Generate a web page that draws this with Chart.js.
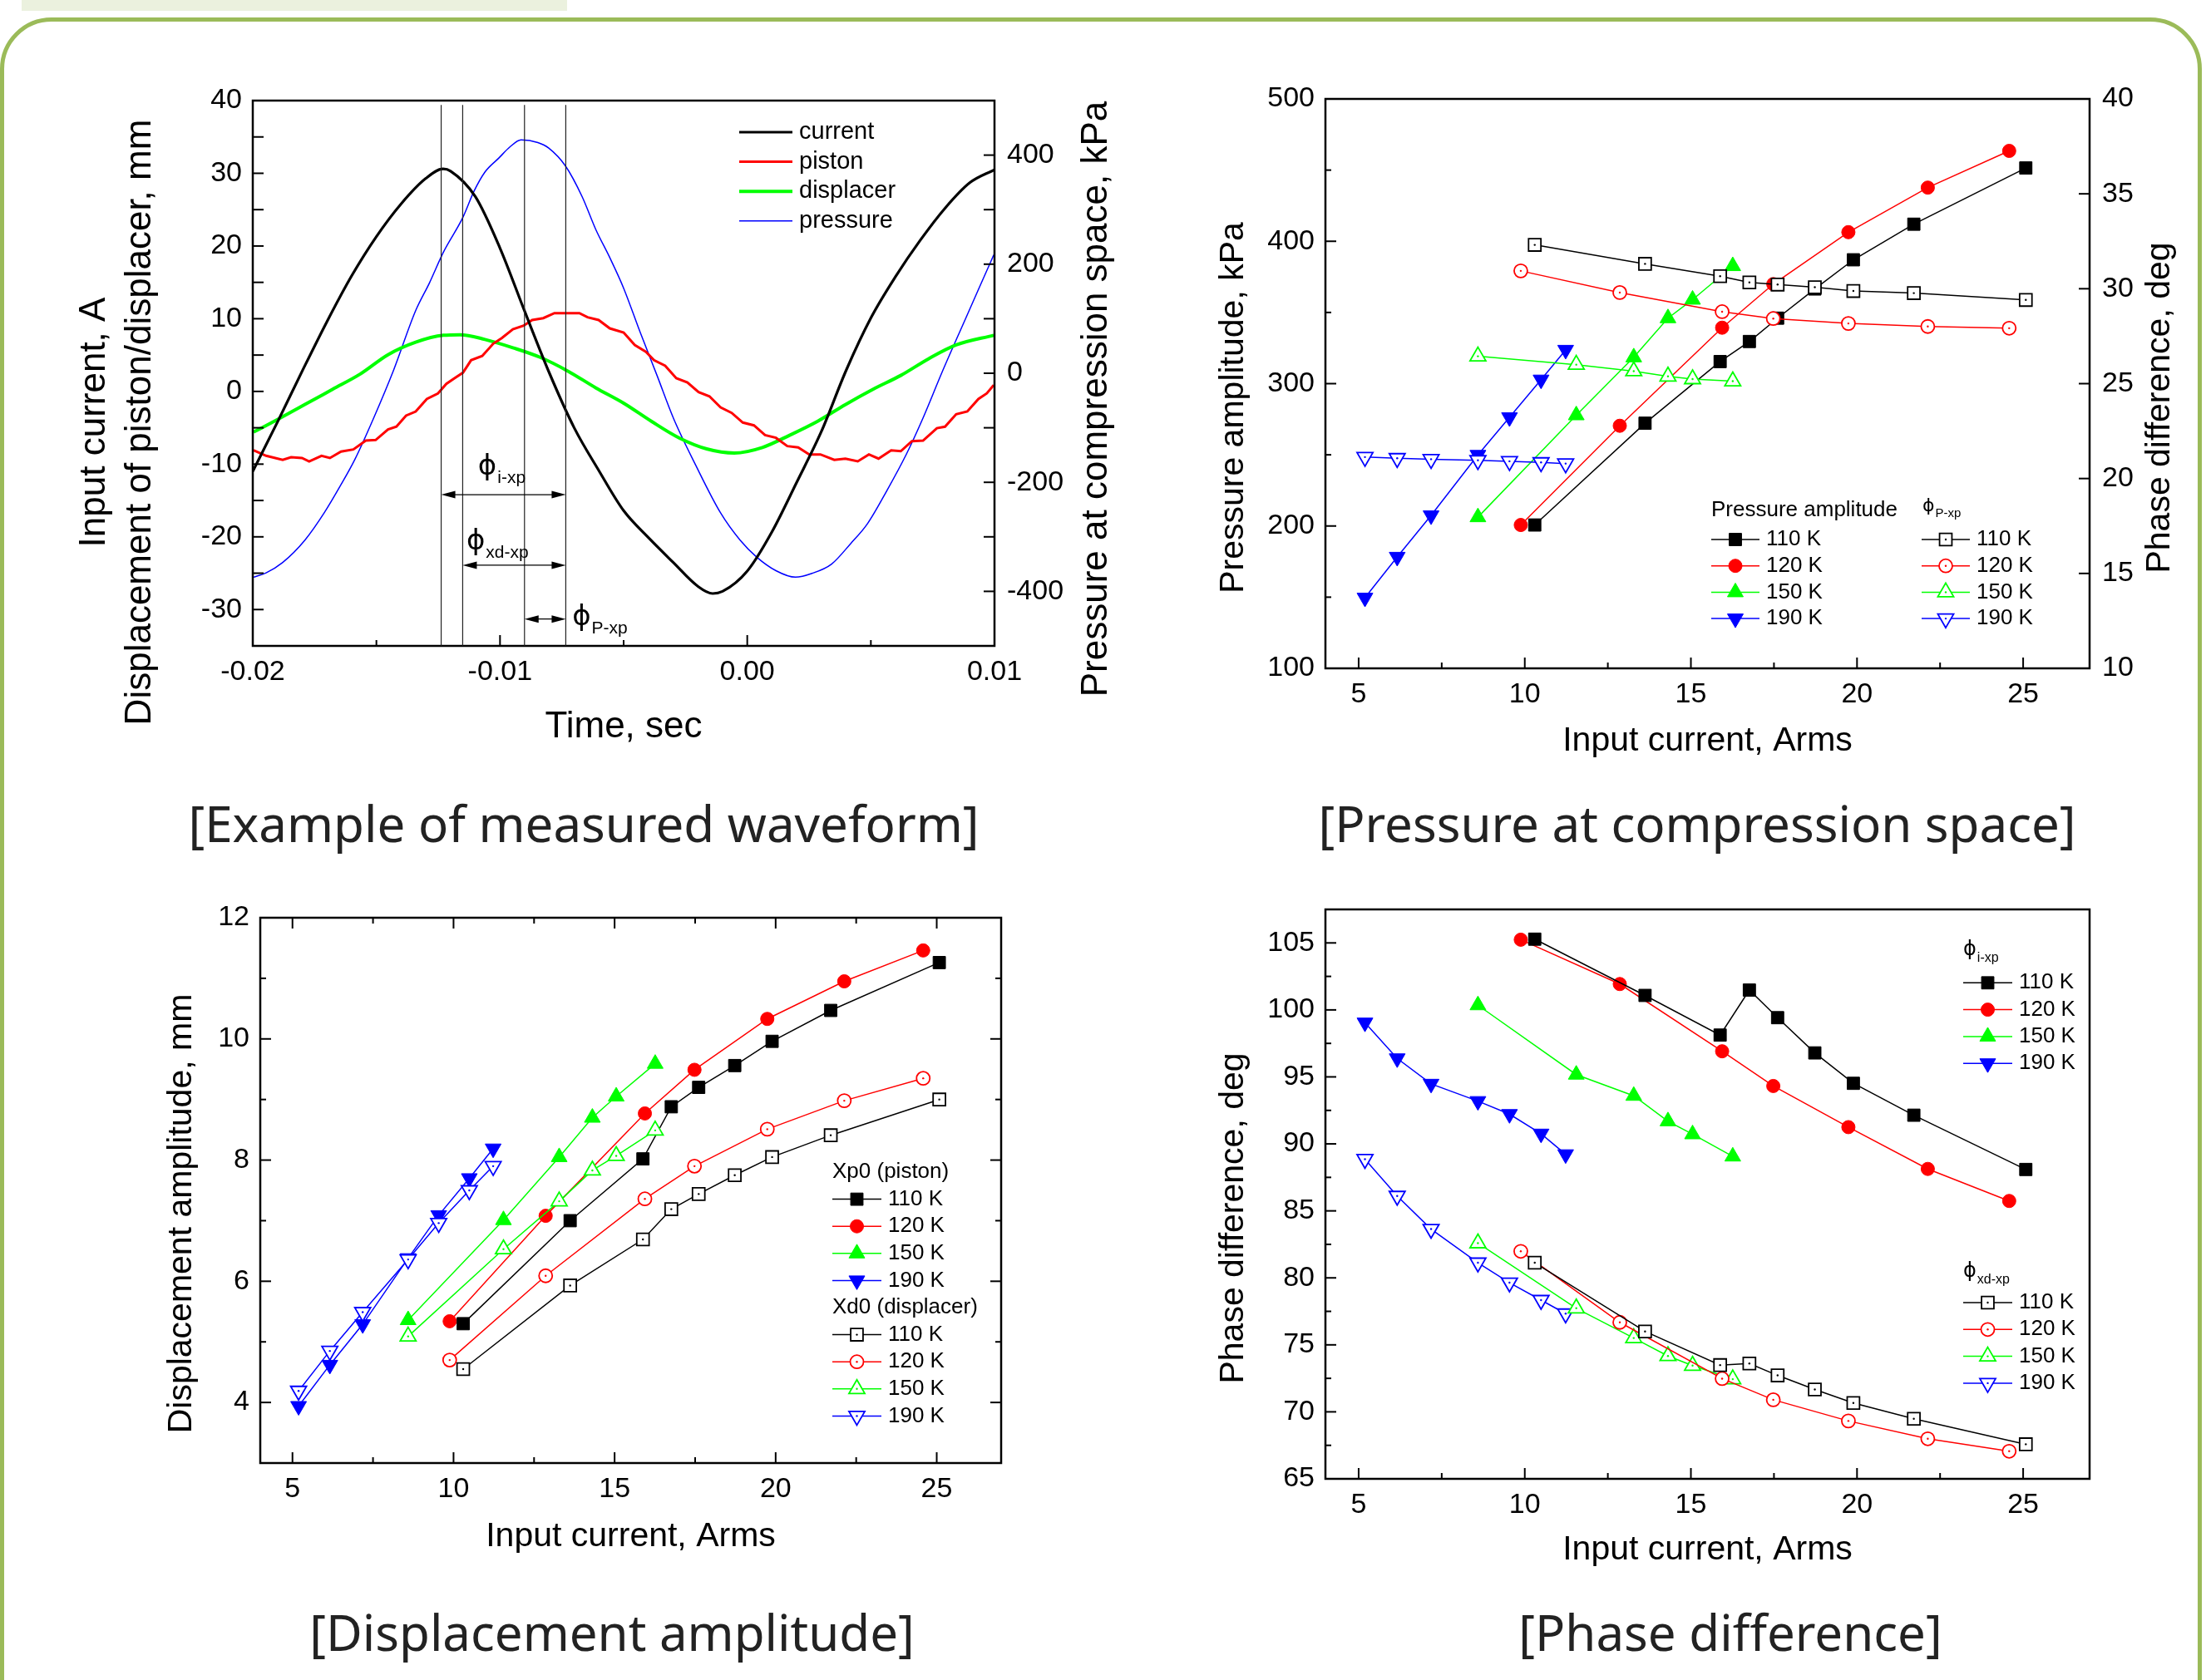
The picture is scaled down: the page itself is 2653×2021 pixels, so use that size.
<!DOCTYPE html>
<html>
<head>
<meta charset="utf-8">
<title>Waveform, pressure, displacement and phase</title>
<script src="https://cdn.jsdelivr.net/npm/chart.js@4.4.1/dist/chart.umd.min.js"></script>
<style>
html, body { margin: 0; padding: 0; background: #fff; }
#page { position: relative; width: 2653px; height: 2021px; overflow: hidden; background: #fff; }
#tab { position: absolute; left: 26px; top: 0; width: 656px; height: 13px; background: #ebf1de; }
#frame { position: absolute; left: 0; top: 21px; width: 2648px; height: 2090px; border: 5px solid #9bbb59; border-radius: 62px; box-sizing: border-box; }
canvas { position: absolute; }
.cap { position: absolute; transform: translate(-50%, -50%); font-family: 'Noto Sans', sans-serif; font-size: 60px; color: #222; white-space: nowrap; }
</style>
</head>
<body>
<div id="page">
  <div id="tab"></div>
  <div id="frame"></div>
  <canvas id="wave" width="1320" height="860" style="left:60px;top:80px"></canvas>
  <canvas id="press" width="1250" height="860" style="left:1400px;top:80px"></canvas>
  <canvas id="disp" width="1230" height="860" style="left:150px;top:1060px"></canvas>
  <canvas id="phase" width="1250" height="870" style="left:1400px;top:1050px"></canvas>
  <div class="cap" style="left:702px;top:990px">[Example of measured waveform]</div>
  <div class="cap" style="left:2041px;top:990px">[Pressure at compression space]</div>
  <div class="cap" style="left:736px;top:1963px">[Displacement amplitude]</div>
  <div class="cap" style="left:2081px;top:1963px">[Phase difference]</div>
</div>
<script>
// ---- waveform (time in s) ----
const tCurrent = [-0.020, -0.019, -0.018, -0.017, -0.016, -0.015, -0.014, -0.013, -0.0123, -0.012, -0.011, -0.010, -0.009, -0.008, -0.007, -0.006, -0.005, -0.004, -0.003, -0.002, -0.0014, -0.001, 0.000, 0.001, 0.002, 0.003, 0.004, 0.005, 0.006, 0.007, 0.008, 0.009, 0.010];
const current = [-11.0, -4.2, 2.8, 9.6, 15.9, 21.3, 25.8, 29.3, 30.6, 30.3, 26.8, 19.7, 11.0, 2.5, -5.0, -10.9, -16.4, -20.1, -23.5, -26.8, -27.8, -27.5, -24.7, -19.3, -12.5, -5.5, 2.9, 10.1, 15.8, 20.8, 25.2, 28.7, 30.5];

const tPiston = [-0.01997, -0.01946, -0.01879, -0.01845, -0.01801, -0.01772, -0.01722, -0.01688, -0.01643, -0.01593, -0.01543, -0.01503, -0.01453, -0.01419, -0.01380, -0.01341, -0.01296, -0.01251, -0.01217, -0.01184, -0.01150, -0.01117, -0.01072, -0.01027, -0.00993, -0.00948, -0.00904, -0.00870, -0.00825, -0.00780, -0.00724, -0.00679, -0.00646, -0.00601, -0.00556, -0.00500, -0.00455, -0.00410, -0.00377, -0.00332, -0.00287, -0.00242, -0.00197, -0.00153, -0.00108, -0.00063, -0.00018, 0.00027, 0.00072, 0.00116, 0.00162, 0.00206, 0.00251, 0.00296, 0.00352, 0.00397, 0.00447, 0.00492, 0.00531, 0.00582, 0.00621, 0.00666, 0.00711, 0.00767, 0.00800, 0.00845, 0.00890, 0.00935, 0.00969, 0.00997];
const piston = [-8.1, -8.85, -9.42, -9.05, -9.16, -9.62, -8.85, -9.16, -8.28, -7.98, -6.76, -6.68, -5.24, -4.85, -3.33, -2.76, -1.04, -0.27, 1.05, 1.82, 2.58, 4.29, 4.87, 6.58, 7.34, 8.56, 9.05, 9.82, 10.08, 10.77, 10.77, 10.77, 10.2, 9.82, 8.67, 8.1, 6.39, 5.44, 4.29, 3.53, 1.82, 1.24, -0.09, -0.67, -2.19, -2.95, -4.28, -4.67, -6.0, -6.38, -7.52, -7.71, -8.67, -8.67, -9.42, -9.24, -9.62, -8.67, -9.24, -8.1, -8.22, -6.84, -6.76, -5.05, -4.85, -3.14, -2.76, -1.04, -0.27, 0.87];

const tDisplacer = [-0.01997, -0.01902, -0.01789, -0.01677, -0.01565, -0.01453, -0.01341, -0.01229, -0.01162, -0.01061, -0.00948, -0.00836, -0.00724, -0.00612, -0.00500, -0.00388, -0.00276, -0.00164, -0.00052, 0.00061, 0.00173, 0.00285, 0.00397, 0.00509, 0.00621, 0.00733, 0.00845, 0.00997];
const displacer = [-5.6, -3.9, -1.8, 0.3, 2.4, 5.05, 6.77, 7.72, 7.8, 7.15, 6.01, 4.67, 2.77, 0.48, -1.61, -4.1, -6.38, -7.9, -8.47, -7.71, -6.0, -4.1, -1.81, 0.3, 2.2, 4.48, 6.39, 7.72];

const tPressure = [-0.01997, -0.01946, -0.01879, -0.01789, -0.01711, -0.01644, -0.01587, -0.01509, -0.01431, -0.01341, -0.01285, -0.01229, -0.01150, -0.01105, -0.01061, -0.01004, -0.00960, -0.00915, -0.00847, -0.00803, -0.00735, -0.00668, -0.00612, -0.00556, -0.00500, -0.00433, -0.00365, -0.00298, -0.00208, -0.00108, -0.00029, 0.00038, 0.00116, 0.00195, 0.00262, 0.00341, 0.00419, 0.00486, 0.00565, 0.00643, 0.00710, 0.00789, 0.00878, 0.00957, 0.00997];
const pressure = [-374, -366, -347, -306, -256, -205, -158, -80, 5, 115, 166, 222, 286, 334, 369, 395, 415, 428, 423, 413, 380, 324, 263, 212, 156, 75, -4, -83, -169, -256, -306, -337, -362, -374, -367, -350, -312, -276, -215, -149, -83, 3, 95, 176, 217];

// phase markers on the waveform
const phaseMarks = [-0.01238, -0.01151, -0.00901, -0.00734];
const markTop = 39.4;
const phaseSpans = [[-0.01238, -0.00734], [-0.01151, -0.00734], [-0.00901, -0.00734]];
const spanLevels = [-14.2, -23.9, -31.3];
const phaseSubs = ['i-xp', 'xd-xp', 'P-xp'];
const noteTimes = [-0.01089, -0.01136, -0.00708];
const noteLevels = [-10.4, -20.7, -31.1];

const waveTimeLabels = [-0.02, -0.01, 0, 0.01];
const waveTimeMinor = [-0.015, -0.005, 0.005];
const waveLeftLabels = [-30, -20, -10, 0, 10, 20, 30, 40];
const waveLeftTicks = [-30, -25, -20, -15, -10, -5, 0, 5, 10, 15, 20, 25, 30, 35];
const waveRightLabels = [-400, -200, 0, 200, 400];
const waveRightTicks = [-400, -300, -200, -100, 0, 100, 200, 300, 400];
const waveLeftTitle = ['Input current, A', 'Displacement of piston/displacer, mm'];
const waveRightTitle = ['Pressure at compression space, kPa'];

// ---- sweep results vs input current (Arms) ----
const temps = ['110 K', '120 K', '150 K', '190 K'];
const cur110 = [10.30, 13.62, 15.88, 16.76, 17.61, 18.73, 19.89, 21.71, 25.08];
const cur120 = [9.88, 12.86, 15.94, 17.48, 19.74, 22.13, 24.58];
const cur150 = [8.59, 11.55, 13.28, 14.31, 15.05, 16.26];
const cur190 = [5.19, 6.16, 7.18, 8.59, 9.54, 10.49, 11.23];

const pAmp110 = [200.7, 272.2, 315.5, 329.6, 346.0, 366.5, 387.0, 412.0, 451.5];
const pAmp120 = [200.7, 270.4, 339.3, 369.9, 406.4, 437.7, 463.5];
const pAmp150 = [206.2, 277.8, 318.5, 346.0, 359.0, 382.6];
const pAmp190 = [149.6, 178.3, 207.4, 249.9, 276.3, 302.8, 323.7];
const phP110 = [32.31, 31.31, 30.66, 30.33, 30.22, 30.08, 29.88, 29.77, 29.41];
const phP120 = [30.94, 29.80, 28.79, 28.43, 28.17, 28.01, 27.92];
const phP150 = [26.44, 26.00, 25.66, 25.38, 25.24, 25.13];
const phP190 = [21.13, 21.07, 21.02, 20.96, 20.91, 20.85, 20.79];

const xp110 = [5.30, 7.00, 8.02, 8.88, 9.20, 9.56, 9.96, 10.47, 11.26];
const xp120 = [5.34, 7.08, 8.77, 9.49, 10.33, 10.95, 11.46];
const xp150 = [5.36, 7.01, 8.05, 8.70, 9.05, 9.59];
const xp190 = [3.94, 4.62, 5.29, 6.38, 7.09, 7.70, 8.19];
const xd110 = [4.55, 5.93, 6.69, 7.19, 7.44, 7.75, 8.05, 8.41, 9.00];
const xd120 = [4.70, 6.09, 7.36, 7.90, 8.51, 8.98, 9.35];
const xd150 = [5.09, 6.53, 7.32, 7.83, 8.07, 8.49];
const xd190 = [4.19, 4.85, 5.49, 6.36, 6.96, 7.50, 7.90];

const phI110 = [105.28, 101.08, 98.12, 101.48, 99.42, 96.79, 94.52, 92.14, 88.09];
const phI120 = [105.24, 101.93, 96.91, 94.32, 91.25, 88.13, 85.74];
const phI150 = [100.35, 95.17, 93.59, 91.69, 90.72, 89.06];
const phI190 = [99.05, 96.38, 94.48, 93.19, 92.22, 90.76, 89.22];
const phXd110 = [81.13, 76.00, 73.49, 73.61, 72.72, 71.67, 70.66, 69.48, 67.58];
const phXd120 = [81.98, 76.68, 72.48, 70.90, 69.32, 67.99, 67.06];
const phXd150 = [82.59, 77.73, 75.51, 74.17, 73.45, 72.44];
const phXd190 = [88.86, 86.11, 83.64, 81.13, 79.64, 78.34, 77.33];

const currentLabels = [5, 10, 15, 20, 25];
const currentMinor = [7.5, 12.5, 17.5, 22.5];
const pressLabels = [100, 200, 300, 400, 500];
const pressMinor = [150, 250, 350, 450];
const phasePLabels = [10, 15, 20, 25, 30, 35, 40];
const dispLabels = [4, 6, 8, 10, 12];
const dispMinor = [3, 5, 7, 9, 11];
const phaseLabels = [65, 70, 75, 80, 85, 90, 95, 100, 105];
const phaseMinor = [67.5, 72.5, 77.5, 82.5, 87.5, 92.5, 97.5, 102.5];

const pressHeads = ['Pressure amplitude', 'P-xp'];
const dispHeads = ['Xp0 (piston)', 'Xd0 (displacer)'];
const phaseHeads = ['i-xp', 'xd-xp'];
const phaseTitle = ['Phase difference, deg'];

const currents = [cur110, cur120, cur150, cur190];
const tempColors = ['#000000', '#ff0000', '#00ff00', '#0000ff'];
const tempShapes = ['rect', 'circle', 'triangle', 'triangle'];
const tempTurns = [0, 0, 0, 180];
const tempSizes = [10.5, 8, 11, 11];

const FONT = "'Liberation Sans', Arial, sans-serif";
Chart.defaults.font.family = FONT;
Chart.defaults.font.size = 34;
Chart.defaults.color = '#000';
Chart.defaults.plugins.legend.display = false;
Chart.defaults.plugins.tooltip.enabled = false;

function axis(o) {
  return {
    type: 'linear', position: o.pos, min: o.min, max: o.max,
    grid: { display: false, drawTicks: false },
    border: { display: false },
    afterBuildTicks: s => { s.ticks = o.labels.map(v => ({ value: v })); },
    afterFit: s => { if (s.isHorizontal()) s.height = o.size; else s.width = o.size; },
    ticks: { autoSkip: false, maxRotation: 0, padding: o.tickPad, color: '#000', callback: o.fmt || (v => v) },
    title: { display: !!o.title, text: o.title, color: '#000', font: { size: o.titleSize, lineHeight: 1.25 }, padding: { top: o.titlePad, bottom: o.titlePad } }
  };
}

function wave(label, xs, ys, color, width, axisId, smooth) {
  return {
    label, data: xs.map((x, i) => ({ x, y: ys[i] })), showLine: true,
    borderColor: color, borderWidth: width, pointRadius: 0, yAxisID: axisId,
    tension: 0, cubicInterpolationMode: smooth ? 'monotone' : 'default'
  };
}

function series(i, ys, filled, axisId) {
  const c = tempColors[i];
  return {
    label: temps[i], data: currents[i].map((x, k) => ({ x, y: ys[k] })), showLine: true,
    borderColor: c, borderWidth: 1.5, tension: 0,
    pointStyle: tempShapes[i], pointRotation: tempTurns[i], pointRadius: tempSizes[i],
    pointBackgroundColor: filled ? c : '#ffffff', pointBorderColor: c, pointBorderWidth: filled ? 1 : 1.8,
    order: filled ? 2 : 1, yAxisID: axisId
  };
}

function marker(ctx, ds, x, y) {
  const r = ds.pointRadius;
  ctx.fillStyle = ds.pointBackgroundColor; ctx.strokeStyle = ds.pointBorderColor; ctx.lineWidth = ds.pointBorderWidth;
  ctx.beginPath();
  if (ds.pointStyle === 'circle') ctx.arc(x, y, r, 0, Math.PI * 2);
  else if (ds.pointStyle === 'rect') { const h = r * Math.SQRT1_2; ctx.rect(x - h, y - h, 2 * h, 2 * h); }
  else {
    const s = ds.pointRotation === 180 ? -1 : 1;
    ctx.moveTo(x, y - s * r); ctx.lineTo(x + r * 0.866, y + s * r / 2); ctx.lineTo(x - r * 0.866, y + s * r / 2); ctx.closePath();
  }
  ctx.fill(); ctx.stroke();
  if (ds.pointBackgroundColor === '#ffffff') dot(ctx, ds.pointBorderColor, x, y);
}

function dot(ctx, color, x, y) {
  ctx.fillStyle = color;
  ctx.beginPath(); ctx.arc(x, y, 1.2, 0, Math.PI * 2); ctx.fill();
}

function keyRow(ctx, ds, x0, len, y, size) {
  ctx.strokeStyle = ds.borderColor; ctx.lineWidth = ds.borderWidth;
  ctx.beginPath(); ctx.moveTo(x0, y); ctx.lineTo(x0 + len, y); ctx.stroke();
  if (ds.pointRadius) marker(ctx, ds, x0 + len / 2, y);
  text(ctx, ds.label, x0 + len + 8, y, size);
}

function text(ctx, str, x, y, size) {
  ctx.fillStyle = '#000'; ctx.font = size + 'px ' + FONT; ctx.textAlign = 'left'; ctx.textBaseline = 'middle';
  ctx.fillText(str, x, y);
}

function phi(ctx, sub, x, y, size, subSize) {
  ctx.fillStyle = '#000'; ctx.font = size + "px 'DejaVu Sans', sans-serif"; ctx.textAlign = 'left'; ctx.textBaseline = 'middle';
  ctx.fillText('\u03d5', x, y);
  const w = ctx.measureText('\u03d5').width;
  text(ctx, sub, x + w + 1, y + size * 0.39, subSize);
}

function arrow(ctx, x1, x2, y) {
  ctx.strokeStyle = '#000'; ctx.fillStyle = '#000'; ctx.lineWidth = 1.3;
  ctx.beginPath(); ctx.moveTo(x1 + 4, y); ctx.lineTo(x2 - 4, y); ctx.stroke();
  for (const [tip, dir] of [[x1, 1], [x2, -1]]) {
    ctx.beginPath(); ctx.moveTo(tip, y); ctx.lineTo(tip + dir * 17, y - 4.5); ctx.lineTo(tip + dir * 17, y + 4.5); ctx.closePath(); ctx.fill();
  }
}

// box round the plot, inward ticks, centre dots of open symbols
function frame(specs) {
  return {
    id: 'frame',
    afterDatasetsDraw(chart) {
      const { ctx, chartArea: a } = chart;
      ctx.save();
      chart.data.datasets.forEach((ds, i) => {
        if (ds.pointBackgroundColor !== '#ffffff') return;
        chart.getDatasetMeta(i).data.forEach(p => dot(ctx, ds.pointBorderColor, p.x, p.y));
      });
      ctx.strokeStyle = '#000'; ctx.lineWidth = 2;
      for (const t of specs) {
        const s = chart.scales[t.scale];
        const sets = [[t.major, t.majorLen || 13], [t.minor || [], t.minorLen || 7]];
        for (const [vals, len] of sets) {
          for (const v of vals) {
            const p = s.getPixelForValue(v);
            ctx.beginPath();
            if (t.side === 'bottom') { ctx.moveTo(p, a.bottom); ctx.lineTo(p, a.bottom - len); }
            if (t.side === 'top') { ctx.moveTo(p, a.top); ctx.lineTo(p, a.top + len); }
            if (t.side === 'left') { ctx.moveTo(a.left, p); ctx.lineTo(a.left + len, p); }
            if (t.side === 'right') { ctx.moveTo(a.right, p); ctx.lineTo(a.right - len, p); }
            ctx.stroke();
          }
        }
      }
      ctx.lineWidth = 2.5;
      ctx.strokeRect(a.left, a.top, a.right - a.left, a.bottom - a.top);
      ctx.restore();
    }
  };
}

// vertical axis titles, all reading bottom to top as in the original
function sideTitles(items) {
  return {
    id: 'sideTitles',
    afterDraw(chart) {
      const { ctx, chartArea: a } = chart;
      const cy = (a.top + a.bottom) / 2;
      for (const it of items) {
        ctx.save();
        ctx.translate(it.x, cy + it.dy);
        ctx.rotate(-Math.PI / 2);
        ctx.fillStyle = '#000'; ctx.font = it.size + 'px ' + FONT; ctx.textAlign = 'center'; ctx.textBaseline = 'middle';
        it.lines.forEach((s, k) => ctx.fillText(s, 0, k * it.size * 1.25));
        ctx.restore();
      }
    }
  };
}

const waveNotes = {
  id: 'waveNotes',
  afterDatasetsDraw(chart) {
    const { ctx, chartArea: a, scales: { x, y } } = chart;
    ctx.save();
    ctx.strokeStyle = '#222'; ctx.lineWidth = 1.2;
    for (const t of phaseMarks) {
      const px = x.getPixelForValue(t);
      ctx.beginPath(); ctx.moveTo(px, y.getPixelForValue(markTop)); ctx.lineTo(px, a.bottom); ctx.stroke();
    }
    phaseSpans.forEach((s, i) => {
      arrow(ctx, x.getPixelForValue(s[0]), x.getPixelForValue(s[1]), y.getPixelForValue(spanLevels[i]));
      phi(ctx, phaseSubs[i], x.getPixelForValue(noteTimes[i]), y.getPixelForValue(noteLevels[i]), 34, 21);
    });
    chart.data.datasets.forEach((ds, i) => keyRow(ctx, ds, a.left + 585, 64, a.top + 38 + 35.6 * i, 29));
    ctx.restore();
  }
};

new Chart(document.getElementById('wave'), {
  type: 'scatter',
  data: { datasets: [
    wave('current', tCurrent, current, '#000000', 3.2, 'y', true),
    wave('piston', tPiston, piston, '#ff0000', 3, 'y', false),
    wave('displacer', tDisplacer, displacer, '#00ff00', 4, 'y', true),
    wave('pressure', tPressure, pressure, '#0000ff', 1.5, 'y1', true)
  ] },
  options: {
    responsive: false, animation: false,
    layout: { padding: { top: 41, left: 0, right: 0, bottom: 0 } },
    scales: {
      x: axis({ pos: 'bottom', min: -0.02, max: 0.01, labels: waveTimeLabels, fmt: v => v.toFixed(2), size: 163, title: 'Time, sec', titleSize: 44, titlePad: 37.5, tickPad: 11 }),
      y: axis({ pos: 'left', min: -35, max: 40, labels: waveLeftLabels, size: 244, tickPad: 13 }),
      y1: axis({ pos: 'right', min: -500, max: 500, labels: waveRightLabels, size: 184, tickPad: 15 })
    }
  },
  plugins: [frame([
    { scale: 'x', side: 'bottom', major: waveTimeLabels, minor: waveTimeMinor },
    { scale: 'y', side: 'left', major: waveLeftTicks },
    { scale: 'y1', side: 'right', major: waveRightTicks }
  ]), waveNotes, sideTitles([
    { lines: waveLeftTitle, x: 54, dy: 59, size: 44 },
    { lines: waveRightTitle, x: 1259, dy: 31, size: 44 }
  ])]
});

// pressure amplitude + phase P-xp
new Chart(document.getElementById('press'), {
  type: 'scatter',
  data: { datasets: [
    series(0, pAmp110, true, 'y'), series(1, pAmp120, true, 'y'), series(2, pAmp150, true, 'y'), series(3, pAmp190, true, 'y'),
    series(0, phP110, false, 'y1'), series(1, phP120, false, 'y1'), series(2, phP150, false, 'y1'), series(3, phP190, false, 'y1')
  ] },
  options: {
    responsive: false, animation: false,
    layout: { padding: { top: 39, left: 0, right: 0, bottom: 0 } },
    scales: {
      x: axis({ pos: 'bottom', min: 4, max: 27, labels: currentLabels, size: 136, title: 'Input current, Arms', titleSize: 41, titlePad: 22.2, tickPad: 11 }),
      y: axis({ pos: 'left', min: 100, max: 500, labels: pressLabels, size: 194, tickPad: 13 }),
      y1: axis({ pos: 'right', min: 10, max: 40, labels: phasePLabels, size: 137, tickPad: 15 })
    }
  },
  plugins: [frame([
    { scale: 'x', side: 'bottom', major: currentLabels, minor: currentMinor },
    { scale: 'y', side: 'left', major: pressLabels, minor: pressMinor },
    { scale: 'y1', side: 'right', major: phasePLabels }
  ]), sideTitles([
    { lines: ['Pressure amplitude, kPa'], x: 84, dy: 29, size: 41 },
    { lines: phaseTitle, x: 1198, dy: 29, size: 41 }
  ]), {
    id: 'pressKey',
    afterDatasetsDraw(chart) {
      const { ctx, chartArea: a } = chart;
      const ds = chart.data.datasets;
      ctx.save();
      text(ctx, pressHeads[0], a.left + 464, a.top + 495, 26);
      phi(ctx, pressHeads[1], a.left + 718, a.top + 490, 22, 15);
      for (let i = 0; i < 4; i++) {
        keyRow(ctx, ds[i], a.left + 464, 58, a.top + 530 + 31.7 * i, 26);
        keyRow(ctx, ds[i + 4], a.left + 717, 58, a.top + 530 + 31.7 * i, 26);
      }
      ctx.restore();
    }
  }]
});

// displacement amplitude
new Chart(document.getElementById('disp'), {
  type: 'scatter',
  data: { datasets: [
    series(0, xp110, true, 'y'), series(1, xp120, true, 'y'), series(2, xp150, true, 'y'), series(3, xp190, true, 'y'),
    series(0, xd110, false, 'y'), series(1, xd120, false, 'y'), series(2, xd150, false, 'y'), series(3, xd190, false, 'y')
  ] },
  options: {
    responsive: false, animation: false,
    layout: { padding: { top: 44, left: 0, right: 176, bottom: 0 } },
    scales: {
      x: axis({ pos: 'bottom', min: 4, max: 27, labels: currentLabels, size: 160, title: 'Input current, Arms', titleSize: 41, titlePad: 45.9, tickPad: 11 }),
      y: axis({ pos: 'left', min: 3, max: 12, labels: dispLabels, size: 163, tickPad: 13 })
    }
  },
  plugins: [frame([
    { scale: 'x', side: 'bottom', major: currentLabels, minor: currentMinor },
    { scale: 'x', side: 'top', major: currentLabels, minor: currentMinor },
    { scale: 'y', side: 'left', major: dispLabels, minor: dispMinor },
    { scale: 'y', side: 'right', major: dispLabels, minor: dispMinor }
  ]), sideTitles([
    { lines: ['Displacement amplitude, mm'], x: 69, dy: 28, size: 41 }
  ]), {
    id: 'dispKey',
    afterDatasetsDraw(chart) {
      const { ctx, chartArea: a } = chart;
      const ds = chart.data.datasets;
      ctx.save();
      text(ctx, dispHeads[0], a.left + 688, a.top + 306, 26);
      text(ctx, dispHeads[1], a.left + 688, a.top + 306 + 32.6 * 5, 26);
      for (let i = 0; i < 4; i++) {
        keyRow(ctx, ds[i], a.left + 688, 59, a.top + 306 + 32.6 * (i + 1), 26);
        keyRow(ctx, ds[i + 4], a.left + 688, 59, a.top + 306 + 32.6 * (i + 6), 26);
      }
      ctx.restore();
    }
  }]
});

// phase difference
new Chart(document.getElementById('phase'), {
  type: 'scatter',
  data: { datasets: [
    series(0, phI110, true, 'y'), series(1, phI120, true, 'y'), series(2, phI150, true, 'y'), series(3, phI190, true, 'y'),
    series(0, phXd110, false, 'y'), series(1, phXd120, false, 'y'), series(2, phXd150, false, 'y'), series(3, phXd190, false, 'y')
  ] },
  options: {
    responsive: false, animation: false,
    layout: { padding: { top: 44, left: 0, right: 137, bottom: 0 } },
    scales: {
      x: axis({ pos: 'bottom', min: 4, max: 27, labels: currentLabels, size: 141, title: 'Input current, Arms', titleSize: 41, titlePad: 29.6, tickPad: 11 }),
      y: axis({ pos: 'left', min: 65, max: 107.5, labels: phaseLabels, size: 194, tickPad: 13 })
    }
  },
  plugins: [frame([
    { scale: 'x', side: 'bottom', major: currentLabels, minor: currentMinor },
    { scale: 'y', side: 'left', major: phaseLabels, minor: phaseMinor }
  ]), sideTitles([
    { lines: phaseTitle, x: 84, dy: 29, size: 41 }
  ]), {
    id: 'phaseKey',
    afterDatasetsDraw(chart) {
      const { ctx, chartArea: a } = chart;
      const ds = chart.data.datasets;
      ctx.save();
      phi(ctx, phaseHeads[0], a.left + 767, a.top + 49, 24, 16);
      phi(ctx, phaseHeads[1], a.left + 767, a.top + 436, 24, 16);
      for (let i = 0; i < 4; i++) {
        keyRow(ctx, ds[i], a.left + 767, 59, a.top + 88.3 + 32.3 * i, 26);
        keyRow(ctx, ds[i + 4], a.left + 767, 59, a.top + 473 + 32.3 * i, 26);
      }
      ctx.restore();
    }
  }]
});
</script>
</body>
</html>
